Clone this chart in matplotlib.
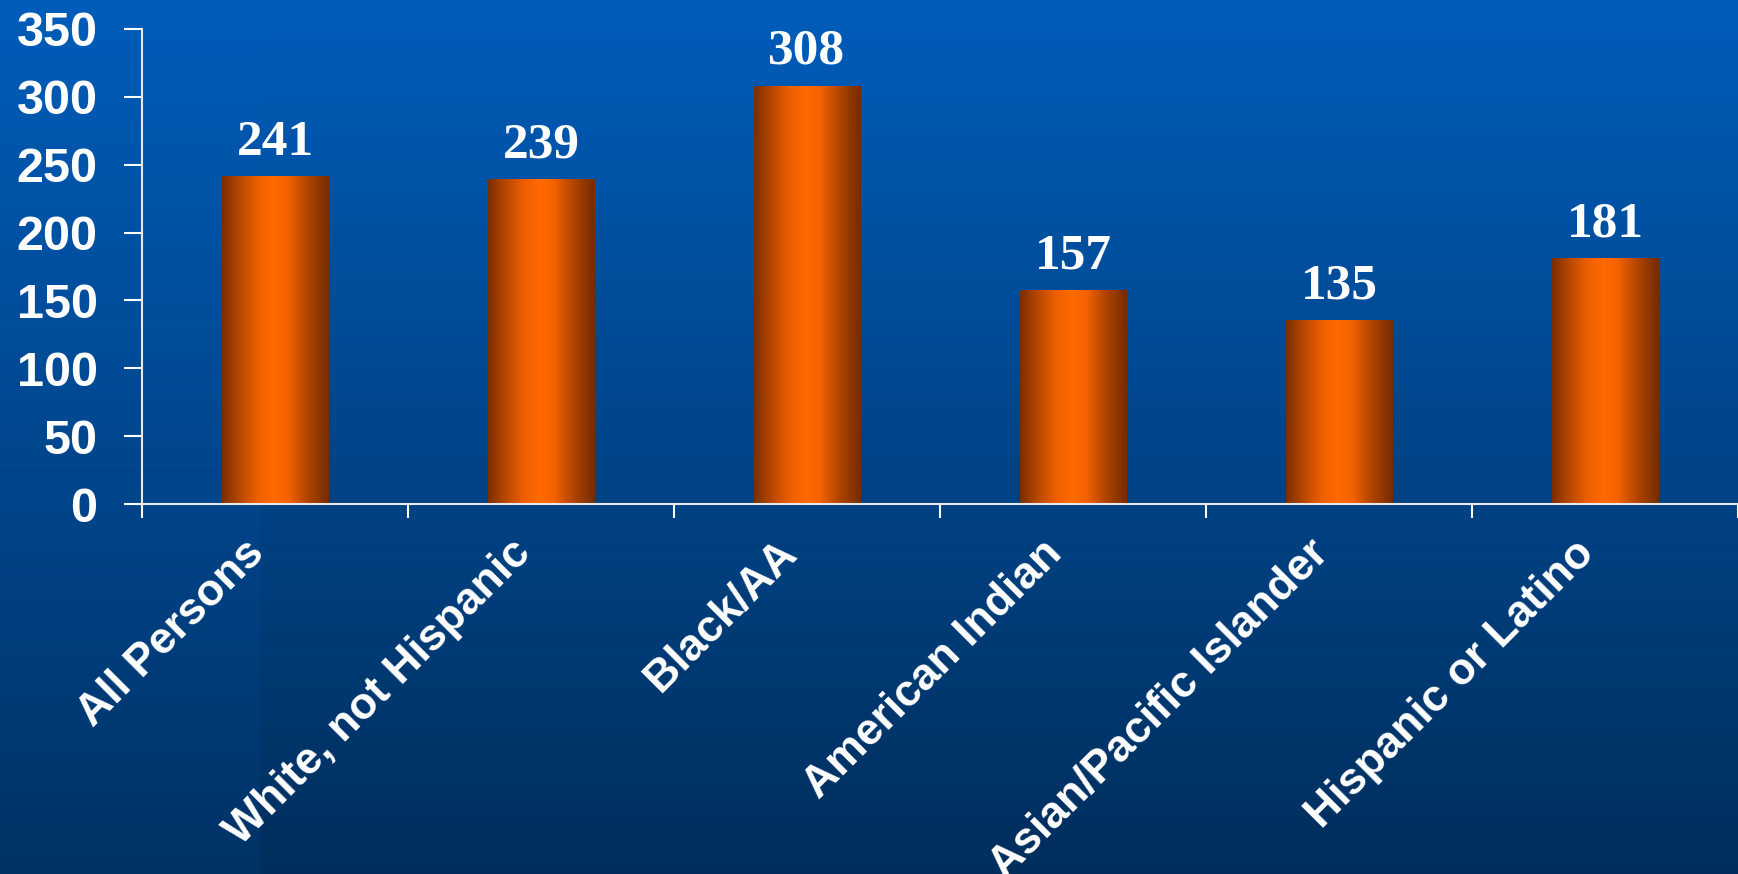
import numpy as np
import matplotlib.pyplot as plt
from matplotlib.colors import LinearSegmentedColormap
from matplotlib.transforms import ScaledTranslation

# data
groups = ["All Persons", "White, not Hispanic", "Black/AA", "American Indian",
          "Asian/Pacific Islander", "Hispanic or Latino"]
values = [241, 239, 308, 157, 135, 181]
yticks = [0, 50, 100, 150, 200, 250, 300, 350]

W, H = 1738, 874
fig = plt.figure(figsize=(W / 100, H / 100), dpi=100)

# background: vertical blue gradient, with a slightly lighter strip on the left
bg = fig.add_axes([0, 0, 1, 1], zorder=-10)
bg.set_axis_off()
t = np.linspace(0, 1, 400)[:, None]
top = np.array([0, 93, 186]) / 255
bot = np.array([0, 46, 92]) / 255
img = np.zeros((400, W // 2, 3))
img[:] = (top + (bot - top) * t)[:, None, :].reshape(400, 1, 3)
strip = int(260 / W * (W // 2))
img[:, :strip, :] += np.array([0, 4, 9]) / 255 * t[:, :, None].reshape(400, 1, 1)
bg.imshow(np.clip(img, 0, 1), aspect='auto', extent=(0, 1, 0, 1))
bg.set_xlim(0, 1)
bg.set_ylim(0, 1)

ax = fig.add_axes([142 / W, (H - 504) / H, (W - 142) / W, 475 / H])
ax.patch.set_alpha(0)

x = np.arange(len(groups))
bars = ax.bar(x, values, width=0.4, color='none', edgecolor='none')

bar_cmap = LinearSegmentedColormap.from_list("cyl", [
    (0.0, "#7a2e00"), (0.15, "#b24600"), (0.33, "#ec5e00"), (0.48, "#ff6a00"),
    (0.62, "#f46200"), (0.8, "#b04400"), (1.0, "#742c00")])
grad = np.linspace(0, 1, 256)[None, :]
for b in bars:
    ax.imshow(grad, cmap=bar_cmap, aspect='auto', zorder=2,
              extent=(b.get_x(), b.get_x() + b.get_width(), 0, b.get_height()))

for xi, v in zip(x, values):
    ax.annotate(str(v), (xi, v), xytext=(0, 16), textcoords='offset points',
                ha='center', va='baseline', color='white', fontsize=37,
                fontweight='bold', family='Liberation Serif')

ax.set_xlim(-0.5, len(groups) - 0.5)
ax.set_ylim(0, 350)
ax.set_yticks(yticks)
ax.set_yticklabels([str(v) for v in yticks], color='white', fontsize=35,
                   fontweight='bold', family='Liberation Sans')
ax.tick_params(axis='y', length=13, width=1.5, color='white', pad=19)
ax.set_xticks(np.arange(len(groups) + 1) - 0.5)
ax.set_xticklabels([])
ax.tick_params(axis='x', length=10, width=1.5, color='white')

for s in ['top', 'right']:
    ax.spines[s].set_visible(False)
for s in ['left', 'bottom']:
    ax.spines[s].set_color('#e8e8e8')
    ax.spines[s].set_linewidth(1.5)

off = ax.get_xaxis_transform() + ScaledTranslation(-0.17, -0.43, fig.dpi_scale_trans)
for xi, g in zip(x, groups):
    ax.text(xi, 0, g, transform=off, rotation=45, rotation_mode='anchor',
            ha='right', va='center', color='white', fontsize=32,
            fontweight='bold', family='Liberation Sans')

fig.savefig("out.png", dpi=100)
